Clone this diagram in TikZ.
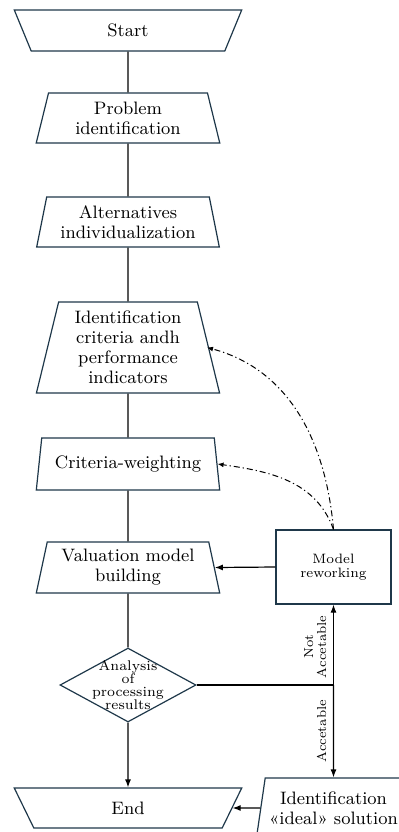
\documentclass[tikz,border=0pt]{standalone}
\usetikzlibrary{arrows.meta, shapes.geometric, calc}
\definecolor{boxline}{RGB}{31,56,74}
\tikzset{
    my-step/.style={
        trapezium, trapezium angle=77, trapezium stretches=true, draw=boxline,
        line width=0.6pt, align=center, font=\fontsize{9}{10}\selectfont,
        minimum width=92pt, inner sep=1pt
    },
    my-term/.style={
        my-step, shape border rotate=180, minimum width=114pt
    },
    my-box/.style={
        rectangle, draw=boxline, line width=0.6pt, align=center,
        font=\fontsize{6.8}{7}\selectfont, minimum width=57.5pt, minimum height=37pt
    },
    my-decision/.style={
        diamond, draw=boxline, line width=0.6pt, minimum width=68pt,
        minimum height=37pt, inner sep=0pt
    },
    my-small/.style={
        align=center, font=\fontsize{6.5}{6.5}\selectfont
    },
    my-feedback/.style={
        dash pattern=on 3pt off 1.5pt on 0.6pt off 1.5pt, line width=0.5pt,
        -{Latex[length=3pt,width=2.5pt]}
    },
}

\begin{document}
\begin{tikzpicture}[x=0.5pt, y=-0.5pt, line width=0.6pt, >={Latex[length=4pt,width=3pt]}]

        \useasboundingbox (0,0) rectangle (399,832);

        % MAIN COLUMN
        \node[my-term, minimum height=20.5pt] (START) at (128, 30.5)  {Start};
        \node[my-step, minimum height=25pt]   (PROB)  at (128, 118)   {Problem\\identification};
        \node[my-step, minimum height=25pt]   (ALT)   at (128, 222)   {Alternatives\\individualization};
        \node[my-step, minimum height=45.5pt] (CRIT)  at (128, 347.5) {Identification\\criteria andh\\performance\\indicators};
        \node[my-step, minimum height=26pt]   (WEIGH) at (128, 464)   {Criteria-weighting};
        \node[my-step, minimum height=25.5pt] (VALU)  at (128, 567.5) {Valuation model\\building};
        \node[my-decision, label={[my-small, font=\fontsize{7}{6.5}\selectfont]center:Analysis\\of\\processing\\results}] (ANAL) at (128, 685) {};
        \node[my-term, minimum height=20pt]   (END)   at (128, 808)   {End};

        % RIGHT COLUMN
        \node[my-box]                                           (REWORK) at (333.5, 567) {Model\\reworking};
        \node[my-step, minimum width=77.5pt, minimum height=30pt] (IDEAL) at (333.5, 808) {Identification\\«ideal» solution};
        \coordinate (SPLIT) at (REWORK.south |- ANAL.east);

        % MAIN FLOW
        \draw (START) -- (PROB);
        \draw (PROB)  -- (ALT);
        \draw (ALT)   -- (CRIT);
        \draw (CRIT)  -- (WEIGH);
        \draw (WEIGH) -- (VALU);
        \draw (VALU)  -- (ANAL);
        \draw[->] (ANAL) -- (END);

        % DECISION BRANCHES
        \draw (ANAL.east) -- (SPLIT);
        \draw[->] (SPLIT) -- (REWORK.south)
            node[my-small, rotate=90, midway, left=1pt, anchor=south] {Not\\Accetable};
        \draw[->] (SPLIT) -- (IDEAL.north)
            node[my-small, rotate=90, midway, anchor=south] {Accetable};
        \draw[->] (IDEAL.west) -- (END.east);
        \draw[->] (REWORK.west) -- (VALU.east);

        % FEEDBACK
        \draw[my-feedback] (REWORK.north) to[out=95, in=-15] ($(CRIT.east) + (-2, 0)$);
        \draw[my-feedback] (REWORK.north) to[out=110, in=-8] (WEIGH.east);

    \end{tikzpicture}
\end{document}
